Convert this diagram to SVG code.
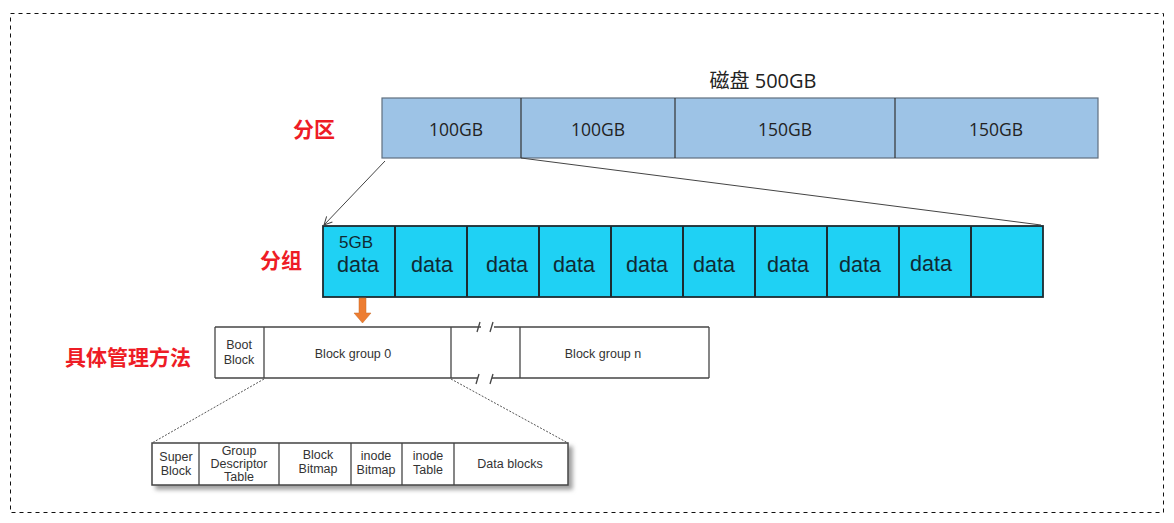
<svg xmlns="http://www.w3.org/2000/svg" width="1174" height="523" viewBox="0 0 1174 523">
<style>
.red{font-family:"Noto Sans CJK SC","Noto Sans",sans-serif;font-weight:bold;font-size:21px;fill:#ee1c25}
.disk{fill:#9dc3e6;stroke:#5f6f7f;stroke-width:1.2}
.dt{font-family:"Open Sans","Noto Sans CJK SC",sans-serif;font-size:17.5px;fill:#222;text-anchor:middle}
.cy{fill:#1fd1f4;stroke:#1c2b30;stroke-width:1.8}
.ct{font-family:"Liberation Sans",sans-serif;font-size:22px;fill:#102a33}
.bt{font-family:"Liberation Sans Narrow","Liberation Sans",sans-serif;font-size:12.5px;fill:#333;text-anchor:middle}
.st{fill:none;stroke:#444;stroke-width:1.3}
</style>
<defs>
<marker id="ah" markerWidth="10" markerHeight="10" refX="9" refY="5" orient="auto" markerUnits="userSpaceOnUse">
<path d="M1,1 L9,5 L1,9" fill="none" stroke="#444" stroke-width="1"/>
</marker>
<filter id="sh" x="-5%" y="-20%" width="115%" height="160%">
<feDropShadow dx="4" dy="4" stdDeviation="2" flood-color="#777" flood-opacity="0.7"/>
</filter>
</defs>
<rect x="10.5" y="13.5" width="1153" height="499" fill="none" stroke="#111" stroke-width="1" stroke-dasharray="4,4"/>

<g id="labels">
<text class="red" x="293" y="137">分区</text>
<text class="red" x="260" y="268">分组</text>
<text class="red" x="65" y="365">具体管理方法</text>
</g>

<g id="disk">
<text class="dt" x="763" y="88" style="font-size:20px">磁盘 500GB</text>
<rect class="disk" x="382" y="98" width="716" height="60"/>
<line x1="521" y1="98" x2="521" y2="158" stroke="#333" stroke-width="1.2"/>
<line x1="675" y1="98" x2="675" y2="158" stroke="#333" stroke-width="1.2"/>
<line x1="895" y1="98" x2="895" y2="158" stroke="#333" stroke-width="1.2"/>
<text class="dt" x="456" y="136">100GB</text>
<text class="dt" x="598" y="136">100GB</text>
<text class="dt" x="785" y="136">150GB</text>
<text class="dt" x="996" y="136">150GB</text>
</g>

<g id="groups">
<rect class="cy" x="323" y="226" width="720" height="71"/>
<g stroke="#1c2b30" stroke-width="2">
<line x1="395" y1="226" x2="395" y2="297"/>
<line x1="467" y1="226" x2="467" y2="297"/>
<line x1="539" y1="226" x2="539" y2="297"/>
<line x1="611" y1="226" x2="611" y2="297"/>
<line x1="683" y1="226" x2="683" y2="297"/>
<line x1="755" y1="226" x2="755" y2="297"/>
<line x1="827" y1="226" x2="827" y2="297"/>
<line x1="899" y1="226" x2="899" y2="297"/>
<line x1="971" y1="226" x2="971" y2="297"/>
</g>
<text class="ct" x="339" y="248" style="font-size:17px" textLength="34" lengthAdjust="spacingAndGlyphs">5GB</text>
<text class="ct" x="337" y="272" textLength="42" lengthAdjust="spacingAndGlyphs">data</text>
<text class="ct" x="411" y="272" textLength="42" lengthAdjust="spacingAndGlyphs">data</text>
<text class="ct" x="486" y="272" textLength="42" lengthAdjust="spacingAndGlyphs">data</text>
<text class="ct" x="553" y="272" textLength="42" lengthAdjust="spacingAndGlyphs">data</text>
<text class="ct" x="626" y="272" textLength="42" lengthAdjust="spacingAndGlyphs">data</text>
<text class="ct" x="693" y="272" textLength="42" lengthAdjust="spacingAndGlyphs">data</text>
<text class="ct" x="767" y="272" textLength="42" lengthAdjust="spacingAndGlyphs">data</text>
<text class="ct" x="839" y="272" textLength="42" lengthAdjust="spacingAndGlyphs">data</text>
<text class="ct" x="910" y="271" textLength="42" lengthAdjust="spacingAndGlyphs">data</text>
</g>

<g id="layout">
<rect x="215" y="327" width="494" height="51" fill="#fff"/>
<g class="st" stroke-width="1.8">
<line x1="215" y1="327" x2="481" y2="327"/>
<line x1="494" y1="327" x2="709" y2="327"/>
<line x1="215" y1="378" x2="478" y2="378"/>
<line x1="492" y1="378" x2="709" y2="378"/>
<line x1="215" y1="327" x2="215" y2="378"/>
<line x1="709" y1="327" x2="709" y2="378"/>
<line x1="264" y1="327" x2="264" y2="378"/>
<line x1="451" y1="327" x2="451" y2="378"/>
<line x1="520" y1="327" x2="520" y2="378"/>
</g>
<g class="st" stroke-width="1.6">
<line x1="477" y1="332" x2="480" y2="322"/>
<line x1="490" y1="332" x2="493" y2="322"/>
<line x1="476" y1="384" x2="479" y2="374"/>
<line x1="490" y1="384" x2="493" y2="374"/>
</g>
<text class="bt" x="239" y="349">Boot</text>
<text class="bt" x="239" y="364">Block</text>
<text class="bt" x="353" y="358">Block group 0</text>
<text class="bt" x="603" y="358">Block group n</text>
</g>

<g id="detail">
<rect x="152" y="443" width="416" height="42" fill="#fff" stroke="#444" stroke-width="1.5" filter="url(#sh)"/>
<g class="st" stroke-width="1.3">
<line x1="199" y1="443" x2="199" y2="485"/>
<line x1="279" y1="443" x2="279" y2="485"/>
<line x1="351" y1="443" x2="351" y2="485"/>
<line x1="402" y1="443" x2="402" y2="485"/>
<line x1="454" y1="443" x2="454" y2="485"/>
</g>
<text class="bt" x="176" y="461">Super</text>
<text class="bt" x="176" y="475">Block</text>
<text class="bt" x="239" y="455">Group</text>
<text class="bt" x="239" y="468">Descriptor</text>
<text class="bt" x="239" y="481">Table</text>
<text class="bt" x="318" y="459">Block</text>
<text class="bt" x="318" y="473">Bitmap</text>
<text class="bt" x="376" y="460">inode</text>
<text class="bt" x="376" y="474">Bitmap</text>
<text class="bt" x="428" y="460">inode</text>
<text class="bt" x="428" y="474">Table</text>
<text class="bt" x="510" y="468">Data blocks</text>
</g>

<g id="connectors">
<line x1="385" y1="161" x2="324" y2="225" stroke="#444" stroke-width="1" marker-end="url(#ah)"/>
<line x1="521" y1="158" x2="1041" y2="225" stroke="#444" stroke-width="1"/>
<path d="M359,298 H366 V313 H371 L362.5,323 L354,313 H359 Z" fill="#ed7d31" stroke="#c96a28" stroke-width="0.5"/>
<line x1="264" y1="379" x2="152" y2="443" stroke="#555" stroke-width="1" stroke-dasharray="2,1.5"/>
<line x1="451" y1="379" x2="568" y2="443" stroke="#555" stroke-width="1" stroke-dasharray="2,1.5"/>
</g>
</svg>
